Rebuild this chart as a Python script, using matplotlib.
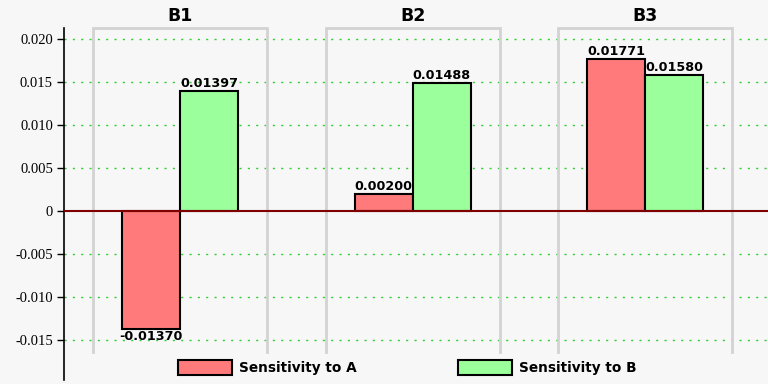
import matplotlib
matplotlib.use("Agg")
import matplotlib.pyplot as plt
import numpy as np

plt.rcParams["font.family"] = ["Liberation Serif", "DejaVu Serif"]
plt.rcParams["ytick.labelsize"] = 10.5

# data
groups = ["B1", "B2", "B3"]
sens_a = [-0.01370, 0.00200, 0.01771]
sens_b = [0.01397, 0.01488, 0.01580]
series_names = ["Sensitivity to A", "Sensitivity to B"]
yticks = [-0.015, -0.010, -0.005, 0, 0.005, 0.010, 0.015, 0.020]
ytick_labels = ["-0.015", "-0.010", "-0.005", "0", "0.005", "0.010", "0.015", "0.020"]

bg = "#f7f7f7"
red = "#ff7b7b"
green = "#9bff9b"

fig = plt.figure(figsize=(7.68, 3.84), dpi=100, facecolor=bg)
# axes: left 64px, right 768px, top 28px, bottom 380px
ax = fig.add_axes([64 / 768, 4 / 384, 704 / 768, 352 / 384], facecolor=bg)

ymin, ymax = -0.01965, 0.02128
ax.set_ylim(ymin, ymax)
ax.set_xlim(-0.5, -0.5 + 704 / 232.5)

x = np.arange(len(groups))
w = 0.25
bars_a = ax.bar(x - w / 2, sens_a, w, color=red, edgecolor="black", linewidth=1.5,
                label=series_names[0], zorder=3)
bars_b = ax.bar(x + w / 2, sens_b, w, color=green, edgecolor="black", linewidth=1.5,
                label=series_names[1], zorder=3)

# value labels
for bars in (bars_a, bars_b):
    for b in bars:
        v = b.get_height()
        cx = b.get_x() + b.get_width() / 2
        if v >= 0:
            ax.annotate(f"{v:.5f}", (cx, v), xytext=(0, 0.5), textcoords="offset points",
                        ha="center", va="bottom", fontsize=9.2, fontweight="bold",
                        family="DejaVu Sans", zorder=5)
        else:
            ax.annotate(f"{v:.5f}", (cx, v), xytext=(0, -1), textcoords="offset points",
                        ha="center", va="top", fontsize=9.2, fontweight="bold",
                        family="DejaVu Sans", zorder=5)

# group brackets and titles
box_half = 87 / 232.5
box_bottom = -0.0164
for i, g in enumerate(groups):
    ax.plot([i - box_half, i - box_half, i + box_half, i + box_half],
            [box_bottom, ymax, ymax, box_bottom], color="#d3d3d3", lw=2,
            clip_on=False, zorder=1, solid_joinstyle="miter")
    ax.text(i, ymax + 0.0003, g, ha="center", va="bottom", fontsize=12.5,
            fontweight="bold", family="DejaVu Sans")

# grid
for t in yticks:
    if t != 0:
        ax.axhline(t, color="#33cc33", lw=1, ls=(0, (1.5, 4.5)), zorder=0)
ax.axhline(0, color="#800000", lw=1.5, zorder=4)

ax.set_yticks(yticks)
ax.set_yticklabels(ytick_labels)
ax.tick_params(axis="y", length=5, width=1, direction="out", pad=3)
ax.set_xticks([])
for s in ["top", "right", "bottom"]:
    ax.spines[s].set_visible(False)
ax.spines["left"].set_linewidth(1.2)

ax.legend(handles=[bars_a, bars_b], loc="center", bbox_to_anchor=(0.4875, 0.035),
          ncol=2, frameon=False, handlelength=4.0, handleheight=1.3,
          columnspacing=7.4, handletextpad=0.5,
          prop={"family": "DejaVu Sans", "weight": "bold", "size": 9.8})

fig.savefig("out.png", dpi=100, facecolor=bg)
